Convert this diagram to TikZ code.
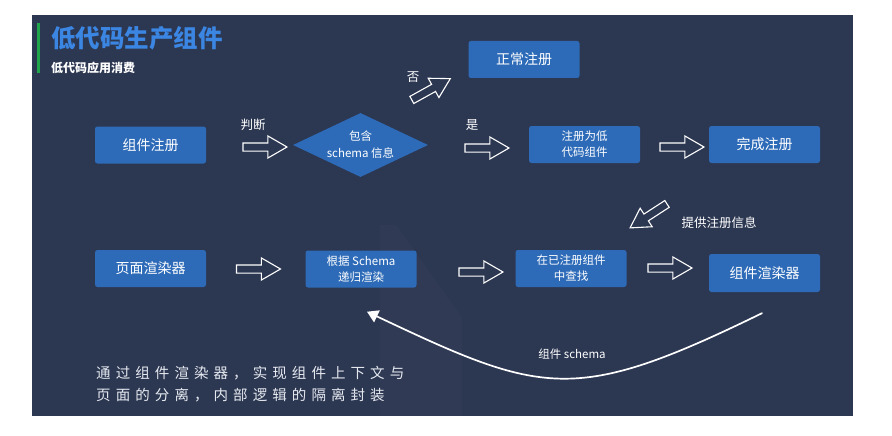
\documentclass[tikz,border=0pt]{standalone}
\usepackage{fontspec}
\setmainfont{Noto Sans CJK SC}
\usetikzlibrary{shapes.geometric,shapes.arrows,arrows.meta,calc}
\definecolor{slidebg}{HTML}{2C3752}
\definecolor{boxblue}{HTML}{2D6BB8}
\definecolor{titleblue}{HTML}{3B86E3}
\definecolor{barGreen}{HTML}{1FA64A}
\definecolor{softwhite}{HTML}{E6EAF0}
\begin{document}
\begin{tikzpicture}[x=1pt,y=-1pt,
  bluebox/.style={rectangle, rounded corners=2.5pt, fill=boxblue, text=white,
    minimum width=111pt, minimum height=37pt, inner sep=0pt, align=center},
  bigtxt/.style={font=\fontsize{14}{16}\selectfont},
  smalltxt/.style={font=\fontsize{11.5}{16}\selectfont},
  decision/.style={diamond, fill=boxblue, text=white, aspect=2.1, inner sep=0pt,
    minimum width=135pt, minimum height=64pt, align=center,
    font=\fontsize{11.5}{17}\selectfont},
  hollow/.style={single arrow, draw=white, line width=1.1pt, fill=none,
    minimum height=44pt, inner xsep=0pt, inner ysep=3.5pt,
    single arrow head extend=7pt, single arrow tip angle=60},
  lbl/.style={text=white, font=\fontsize{12.5}{12}\selectfont},
  curve/.style={draw=white, line width=1.7pt, line cap=round,
    -{Triangle[length=11pt,width=13pt]}}
]
\useasboundingbox (0,0) rectangle (892,436);
\fill[white] (0,0) rectangle (892,436);
\fill[slidebg] (32,15) rectangle (853,416);
% faint decorative panel
\fill[white, opacity=0.018] (380,225) -- (396,225) -- (462,318) -- (462,416) -- (380,416) -- cycle;

% title
\fill[barGreen] (37,23) rectangle (40,73);
\node[anchor=west, inner sep=0pt, text=titleblue, font=\fontsize{24.5}{24}\selectfont\bfseries] (title) at (51,38) {低代码生产组件};
\node[anchor=west, inner sep=0pt, text=white, font=\fontsize{12}{12}\selectfont\bfseries] (subtitle) at (51,68) {低代码应用消费};

% top row
\node[bluebox, bigtxt] (reg) at (150.5,145) {组件注册};
\node[decision] (dia) at (360.5,145) {包含\\schema 信息};
\node[bluebox, bigtxt] (normal) at (524,59.5) {正常注册};
\node[bluebox, smalltxt] (lc) at (584.5,144.5) {注册为低\\代码组件};
\node[bluebox, bigtxt] (done) at (764.5,144.5) {完成注册};

% bottom row
\node[bluebox, bigtxt] (page) at (150.5,268.5) {页面渲染器};
\node[bluebox, smalltxt] (rs) at (361,269) {根据 Schema\\递归渲染};
\node[bluebox, smalltxt] (find) at (571,268.5) {在已注册组件\\中查找};
\node[bluebox, bigtxt, minimum height=38pt] (cr) at (764.5,273) {组件渲染器};

% hollow arrows
\node[hollow] (a1) at (261.5,147) {};
\node[hollow, rotate=29] (a2) at (428,91) {};
\node[hollow] (a3) at (483.5,148) {};
\node[hollow] (a4) at (678.5,147) {};
\node[hollow, rotate=213] (a5) at (651.5,214) {};
\node[hollow] (b1) at (255,269) {};
\node[hollow] (b2) at (477.5,272) {};
\node[hollow] (b3) at (666.5,268) {};

% labels
\node[lbl] (l1) at (253,125) {判断};
\node[lbl] (l2) at (413,77) {否};
\node[lbl] (l3) at (472,125) {是};
\node[lbl, anchor=west] (l5) at (678,223) {提供注册信息};

% curved return arrow
\draw[curve] ([xshift=-2.5pt,yshift=-21pt]cr.south) .. controls (574,405) and (543,395) .. ([xshift=6pt,yshift=-24pt]rs.south);
\node[text=white, font=\fontsize{11.5}{12}\selectfont] (cl) at (572,354) {组件 schema};

% bottom note
\node[anchor=west, inner sep=0pt, text=softwhite, align=left,
  font=\fontsize{14.5}{22}\selectfont\addfontfeature{LetterSpace=35}] (note) at (96,384)
  {通过组件渲染器，实现组件上下文与\\页面的分离，内部逻辑的隔离封装};
\end{tikzpicture}
\end{document}
